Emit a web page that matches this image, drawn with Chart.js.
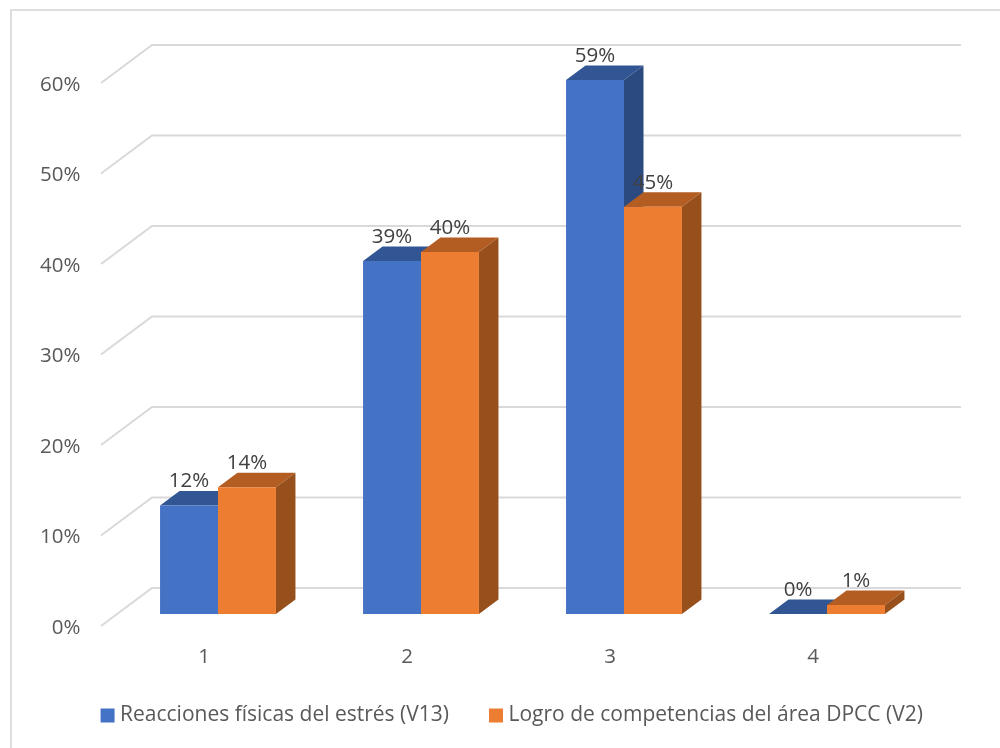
<!doctype html>
<html>
<head>
    <title>Reacciones físicas del estrés</title>
    <script src="https://cdn.jsdelivr.net/npm/chart.js"></script>
    <style>
        html, body { margin: 0; background: #fff; }
        #caja { position: relative; width: 1000px; height: 748px; overflow: hidden; }
        #marco { position: absolute; left: 10px; top: 9px; width: 1200px; height: 1000px; border: 2px solid #DEDEDE; }
    </style>
</head>
<body>
    <div id="caja">
        <div id="marco"></div>
        <canvas id="grafico" width="1000" height="748" style="position:relative"></canvas>
    </div>

    <script>
        var categorias = ['1', '2', '3', '4'];
        var reacciones = [12, 39, 59, 0];
        var logro = [14, 40, 45, 1];
        var nombreReacciones = 'Reacciones físicas del estrés (V13)';
        var nombreLogro = 'Logro de competencias del área DPCC (V2)';

        var fuente = '"Open Sans"';
        var tamano = 20.5;
        var tamanoLeyenda = 21;

        // Caras laterales y superior de cada serie
        var caras = [
            { arriba: '#325694', lado: '#2B4B80' },
            { arriba: '#B35D22', lado: '#97501C' }
        ];

        // Desplazamiento del plano de las barras y profundidad de cada barra
        var planoX = 14, planoY = -12;
        var fondoX = 19.5, fondoY = -14.5;

        // La leyenda va centrada respecto al ancho total, se corre a mano
        var corrimientoLeyenda = 57;

        var pluginLeyenda = {
            id: 'corrimientoLeyenda',
            afterLayout: function (chart) {
                chart.legend.left += corrimientoLeyenda;
                chart.legend.right += corrimientoLeyenda;
                // la leyenda reserva mucho alto y las etiquetas del eje X quedaban recortadas
                chart.scales.x.bottom += 20;
            }
        };

        // Paredes y lineas de fondo, sacadas de la escala Y
        var pluginFondo = {
            id: 'fondo',
            beforeDatasetsDraw: function (chart) {
                var ctx = chart.ctx, area = chart.chartArea, y = chart.scales.y;
                ctx.save();
                ctx.strokeStyle = '#D9D9D9';
                ctx.lineWidth = 2;
                y.ticks.forEach(function (t) {
                    var py = y.getPixelForValue(t.value);
                    ctx.beginPath();
                    ctx.moveTo(area.left - 1.5, py);
                    ctx.lineTo(area.left + 49.5, py - 38);
                    ctx.lineTo(area.right + 46.5, py - 38);
                    ctx.stroke();
                });
                ctx.restore();
            }
        };

        function dibujarCaras(ctx, meta, cara) {
            meta.data.forEach(function (b) {
                var izq = b.x - b.width / 2, der = b.x + b.width / 2;
                ctx.fillStyle = cara.arriba;
                ctx.beginPath();
                ctx.moveTo(izq, b.y);
                ctx.lineTo(izq + fondoX, b.y + fondoY);
                ctx.lineTo(der + fondoX, b.y + fondoY);
                ctx.lineTo(der, b.y);
                ctx.closePath();
                ctx.fill();
                ctx.fillStyle = cara.lado;
                ctx.beginPath();
                ctx.moveTo(der, b.y);
                ctx.lineTo(der + fondoX, b.y + fondoY);
                ctx.lineTo(der + fondoX, b.base + fondoY);
                ctx.lineTo(der, b.base);
                ctx.closePath();
                ctx.fill();
            });
        }

        // Chart.js pinta la ultima serie primero; aqui se pinta azul y luego naranja
        var plugin3d = {
            id: 'barras3d',
            beforeDatasetDraw: function () {
                return false;
            },
            afterDatasetsDraw: function (chart) {
                var ctx = chart.ctx;
                chart.data.datasets.forEach(function (ds, i) {
                    var meta = chart.getDatasetMeta(i);
                    ctx.save();
                    ctx.translate(planoX, planoY);
                    dibujarCaras(ctx, meta, caras[i]);
                    meta.controller.draw();
                    ctx.restore();
                });

                ctx.save();
                ctx.font = tamano + 'px ' + fuente;
                ctx.fillStyle = '#404040';
                ctx.textAlign = 'center';
                ctx.textBaseline = 'middle';
                chart.data.datasets.forEach(function (ds, i) {
                    chart.getDatasetMeta(i).data.forEach(function (b, j) {
                        ctx.fillText(ds.data[j] + '%', b.x + planoX, b.y + planoY - 24);
                    });
                });
                ctx.restore();
            }
        };

        new Chart(document.getElementById('grafico').getContext('2d'), {
            type: 'bar',
            data: {
                labels: categorias,
                datasets: [
                    { label: nombreReacciones, data: reacciones, backgroundColor: '#4472C4' },
                    { label: nombreLogro, data: logro, backgroundColor: '#ED7D31' }
                ]
            },
            options: {
                responsive: false,
                animation: false,
                categoryPercentage: 0.571,
                barPercentage: 1,
                layout: { padding: { left: 0, right: 85.5, top: 83, bottom: 12 } },
                scales: {
                    x: {
                        grid: { display: false },
                        border: { display: false },
                        ticks: { color: '#595959', font: { family: fuente, size: tamano }, padding: 11, maxRotation: 0 },
                        afterFit: function (s) { s.height = 34; }
                    },
                    y: {
                        min: 0,
                        max: 60,
                        grid: { display: false },
                        border: { display: false },
                        ticks: {
                            stepSize: 10,
                            color: '#595959',
                            font: { family: fuente, size: tamano },
                            padding: 14,
                            labelOffset: 2,
                            callback: function (v) { return v + '%'; }
                        },
                        afterFit: function (s) { s.width = 102.5; }
                    }
                },
                plugins: {
                    tooltip: { enabled: false },
                    legend: {
                        position: 'bottom',
                        labels: {
                            color: '#595959',
                            font: { family: fuente, size: tamanoLeyenda },
                            boxWidth: 4,
                            boxHeight: 4,
                            padding: 45,
                            generateLabels: function (chart) {
                                return Chart.defaults.plugins.legend.labels.generateLabels(chart).map(function (l) {
                                    l.strokeStyle = l.fillStyle;
                                    l.lineWidth = 10;
                                    return l;
                                });
                            }
                        }
                    }
                }
            },
            plugins: [pluginLeyenda, pluginFondo, plugin3d]
        });
    </script>
</body>
</html>
